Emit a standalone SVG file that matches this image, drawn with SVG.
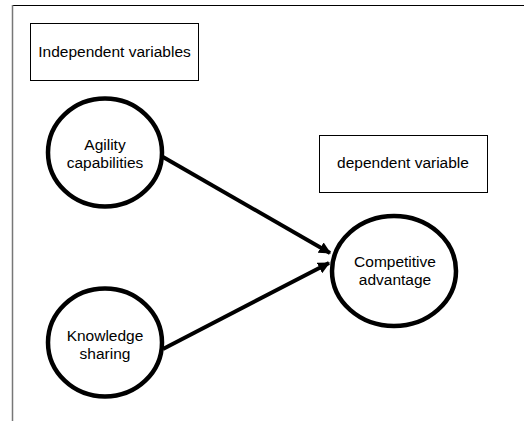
<svg xmlns="http://www.w3.org/2000/svg" width="524" height="421" viewBox="0 0 524 421">
<defs>
<style>
.box{fill:#fff;stroke:#000;stroke-width:1}
.node ellipse{fill:#fff;stroke:#000;stroke-width:4.5}
text{font-family:"Liberation Sans",Arial,sans-serif;font-size:15.5px;fill:#000;text-anchor:middle}
.conn line{stroke:#000;stroke-width:4}
</style>
<marker id="ah" viewBox="0 0 10 10" refX="9" refY="5" markerWidth="3" markerHeight="3" orient="auto" markerUnits="strokeWidth">
<path d="M0,0 L10,5 L0,10 z" fill="#000"/>
</marker>
</defs>
<rect width="524" height="421" fill="#fff"/>
<line x1="12" y1="5.5" x2="524" y2="5.5" stroke="#000" stroke-width="1"/>
<line x1="12.5" y1="5" x2="12.5" y2="421" stroke="#777" stroke-width="1.5"/>
<g id="independent-label">
<rect class="box" x="30.5" y="23.5" width="168" height="57"/>
<text x="114.5" y="57">Independent variables</text>
</g>
<g id="dependent-label">
<rect class="box" x="319.5" y="135.5" width="168" height="57"/>
<text x="403" y="168">dependent variable</text>
</g>
<g class="conn" id="connectors">
<line x1="163" y1="157" x2="330" y2="253" marker-end="url(#ah)"/>
<line x1="163" y1="349" x2="329" y2="263" marker-end="url(#ah)"/>
</g>
<g class="node" id="agility">
<ellipse cx="105" cy="152.5" rx="57" ry="54"/>
<text x="105" y="150">Agility</text>
<text x="105" y="168">capabilities</text>
</g>
<g class="node" id="knowledge">
<ellipse cx="105" cy="342.5" rx="57" ry="54"/>
<text x="105" y="341">Knowledge</text>
<text x="105" y="359">sharing</text>
</g>
<g class="node" id="competitive">
<ellipse cx="394" cy="271" rx="62" ry="55"/>
<text x="395" y="267">Competitive</text>
<text x="395" y="285">advantage</text>
</g>
</svg>
